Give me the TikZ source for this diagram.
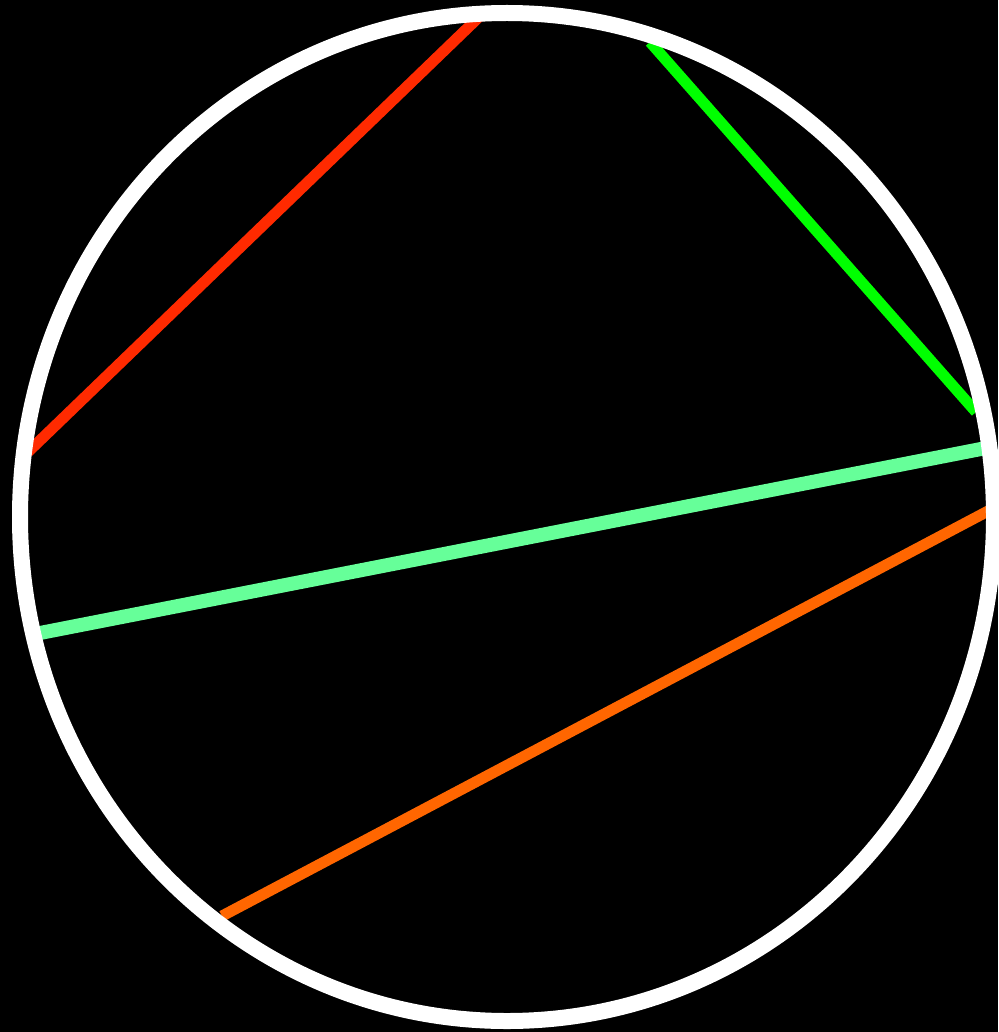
\documentclass[tikz,border=0pt]{standalone}
\begin{document}
\begin{tikzpicture}[x=1pt,y=-1pt,
  chord/.style={line width=11pt,line cap=butt},
  rim/.style={draw=white,line width=16pt}]
\definecolor{cred}{HTML}{FF2A00}
\definecolor{cgreen}{HTML}{00FF00}
\definecolor{cmint}{HTML}{66FF99}
\definecolor{corange}{HTML}{FF6600}
\fill[black] (0,0) rectangle (998,1032);
\useasboundingbox (0,0) rectangle (998,1032);
\coordinate (r1) at (28,452);
\coordinate (r2) at (479,17);
\coordinate (g1) at (650,42);
\coordinate (g2) at (976,412);
\coordinate (m1) at (40,633);
\coordinate (m2) at (986,448);
\coordinate (o1) at (222,916);
\coordinate (o2) at (990,510);
\draw[chord,cred] (r1) -- (r2);
\draw[chord,cgreen] (g1) -- (g2);
\draw[chord,cmint,line width=14pt] (m1) -- (m2);
\draw[chord,corange] (o1) -- (o2);
\draw[rim] (507,517) ellipse [x radius=487, y radius=504];
\end{tikzpicture}
\end{document}
